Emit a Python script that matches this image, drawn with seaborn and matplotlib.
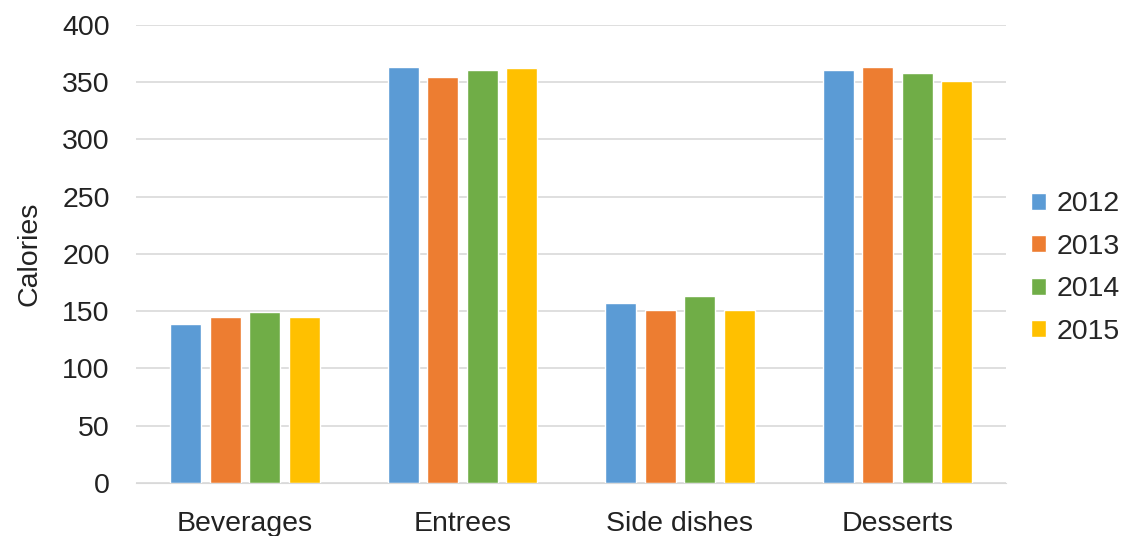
import pandas as pd
import matplotlib.pyplot as plt
import seaborn as sns

categories = ['Beverages', 'Entrees', 'Side dishes', 'Desserts']
years = ['2012', '2013', '2014', '2015']
cal_2012 = [139, 363, 157, 360]
cal_2013 = [145, 354, 151, 363]
cal_2014 = [149, 360, 163, 358]
cal_2015 = [145, 362, 151, 351]

colors = ['#5B9BD5', '#ED7D31', '#70AD47', '#FFC000']

rows = []
for year, vals in zip(years, [cal_2012, cal_2013, cal_2014, cal_2015]):
    for cat, v in zip(categories, vals):
        rows.append({'Category': cat, 'Year': year, 'Calories': v})
df = pd.DataFrame(rows)

sns.set_style('white')
plt.rcParams['font.family'] = ['Liberation Sans', 'DejaVu Sans']

fig = plt.figure(figsize=(11.3, 5.36), dpi=100)
ax = fig.add_axes([0.1204, 0.099, 0.77, 0.855])

sns.barplot(data=df, x='Category', y='Calories', hue='Year', order=categories,
            hue_order=years, palette=colors, width=0.726, gap=0.215,
            saturation=1, ax=ax)

ax.set_ylim(0, 400)
ax.set_yticks(range(0, 401, 50))
ax.yaxis.grid(True, color='#D9D9D9', linewidth=1.2)
ax.set_axisbelow(True)
for s in ['top', 'right', 'left']:
    ax.spines[s].set_visible(False)
ax.spines['bottom'].set_color('#D9D9D9')
ax.tick_params(axis='y', length=0, labelsize=20.5, colors='#222222', pad=19)
ax.tick_params(axis='x', length=0, labelsize=20.5, colors='#222222', pad=20)
ax.set_xlabel('')
ax.set_ylabel('Calories', fontsize=20.5, color='#222222', labelpad=14)

# legend to the right of the plot, outside the axes
handles, labels = ax.get_legend_handles_labels()
ax.get_legend().remove()
fig.legend(handles, labels, loc='center left', bbox_to_anchor=(0.912, 0.5),
           bbox_transform=fig.transFigure, frameon=False, borderaxespad=0,
           borderpad=0, fontsize=20.5, handlelength=0.55, handleheight=0.55,
           handletextpad=0.35, labelspacing=0.58)

fig.savefig('out.png', dpi=100)
